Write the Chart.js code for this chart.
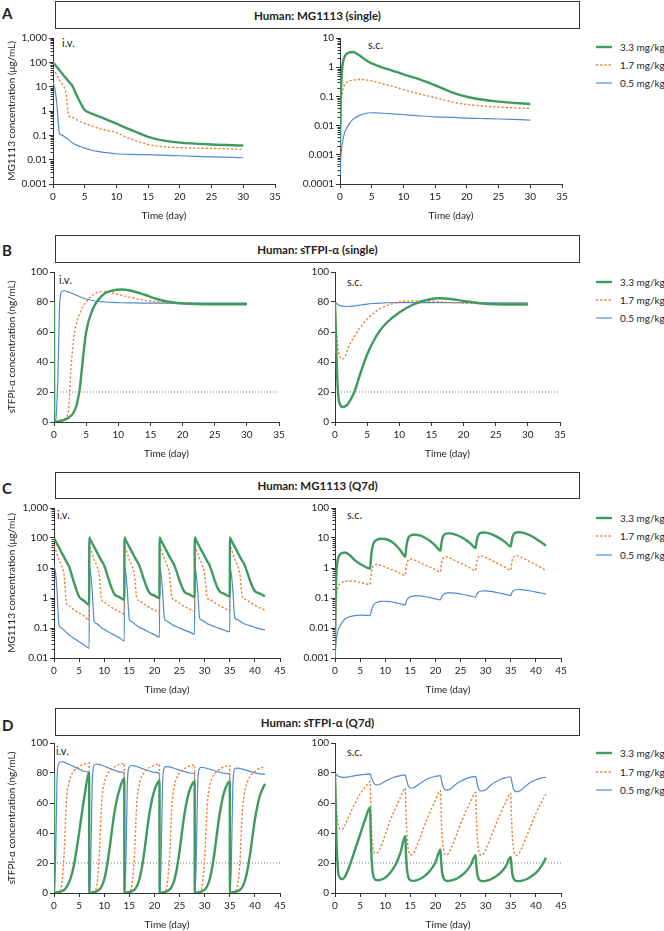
<!DOCTYPE html>
<html lang="en">
<head>
  <meta charset="UTF-8">
  <title>MG1113 and sTFPI-α simulations</title>
  <script src="https://cdn.jsdelivr.net/npm/chart.js"></script>
  <style>
    body { margin: 0; background: #fff; }
    #fig { position: relative; width: 664px; height: 931px; overflow: hidden; font-family: Lato, 'Open Sans', sans-serif; color: #222; }
    #fig canvas { position: absolute; }
    .head { position: absolute; left: 55px; width: 525px; box-sizing: border-box; border: 1px solid #333; font-weight: 700; font-size: 11.5px; display: flex; align-items: center; justify-content: center; }
    .letter { position: absolute; left: 2px; font-weight: 700; font-size: 15px; line-height: 15px; }
    .route { position: absolute; font-size: 11px; line-height: 12px; }
    .leg { position: absolute; left: 596px; width: 70px; height: 12px; font-size: 10px; line-height: 12px; white-space: nowrap; }
    .leg svg { position: absolute; left: 0; top: 3px; }
    .leg span { position: absolute; left: 24px; top: 0; }
  </style>
</head>
<body>
<div id="fig"></div>
<script>
  // ---- data ----
  const doseLabels = ['3.3 mg/kg', '1.7 mg/kg', '0.5 mg/kg'];
  const targetLevel = 20;

  // A: MG1113 single dose (µg/mL)
  const timeA_iv = [0, 0.3, 0.6, 0.9, 1, 1.5, 2, 2.5, 3, 4, 4.5, 5, 6, 7, 8, 10, 12, 15, 18, 20, 25, 30];
  const mgSingleIv33 = [100, 80, 64, 52, 48, 33, 23, 16, 11.2, 3.2, 1.8, 1.1, 0.8, 0.63, 0.5, 0.3, 0.18, 0.087, 0.058, 0.05, 0.042, 0.038];
  const mgSingleIv17 = [55, 42, 30, 21, 19, 12, 6, 0.65, 0.55, 0.4, 0.35, 0.31, 0.25, 0.2, 0.17, 0.13, 0.075, 0.042, 0.033, 0.031, 0.029, 0.027];
  const mgSingleIv05 = [15, 8, 2, 0.2, 0.12, 0.1, 0.08, 0.065, 0.05, 0.037, 0.033, 0.03, 0.025, 0.022, 0.02, 0.0175, 0.0165, 0.016, 0.015, 0.0145, 0.013, 0.012];

  const timeA_sc = [0, 0.1, 0.2, 0.4, 0.7, 1, 1.5, 2, 3, 4, 5, 6, 7, 8, 10, 12, 15, 18, 20, 22, 25, 30];
  const mgSingleSc33 = [0.002, 0.05, 0.3, 1.2, 2.2, 2.8, 3.2, 3.3, 2.6, 1.8, 1.35, 1.1, 0.93, 0.8, 0.57, 0.42, 0.24, 0.13, 0.097, 0.08, 0.066, 0.055];
  const mgSingleSc17 = [0.0008, 0.01, 0.05, 0.15, 0.25, 0.3, 0.34, 0.36, 0.38, 0.37, 0.34, 0.3, 0.26, 0.23, 0.17, 0.13, 0.09, 0.062, 0.053, 0.048, 0.043, 0.039];
  const mgSingleSc05 = [0.0002, 0.0006, 0.0012, 0.0028, 0.0055, 0.0078, 0.012, 0.016, 0.022, 0.026, 0.0275, 0.027, 0.0265, 0.0255, 0.0235, 0.022, 0.02, 0.019, 0.018, 0.0175, 0.0168, 0.0155];

  // B: sTFPI-α single dose (ng/mL)
  const timeB_iv = [0, 0.03, 0.3, 0.6, 0.9, 1.2, 1.6, 2, 2.3, 2.6, 3, 3.5, 4, 4.5, 5, 6, 7, 8, 9, 10.5, 12, 14, 16, 18, 20, 25, 30];
  const tfpiSingleIv33 = [80, 0, 0.2, 0.4, 0.6, 0.9, 1.4, 2.2, 3, 4, 6, 11, 22, 42, 60, 75, 82, 86, 87.5, 88.3, 87.5, 85, 82, 80, 79, 78.5, 78.5];
  const tfpiSingleIv17 = [80, 0, 0.3, 0.6, 1, 1.5, 2.3, 3.5, 10, 33, 53, 66, 72, 77, 80, 84.5, 86.7, 86.8, 86, 84.5, 83, 81.2, 80, 79.4, 79.2, 79, 79];
  const tfpiSingleIv05 = [80, 0, 2, 30, 80, 87, 87.5, 87, 86.6, 86.2, 85.5, 84.5, 83.5, 82.7, 82, 81, 80.4, 80, 79.7, 79.5, 79.4, 79.3, 79.3, 79.2, 79.2, 79.2, 79.2];

  const timeB_sc = [0, 0.1, 0.3, 0.5, 0.8, 1.2, 1.6, 2, 3, 4, 5, 6, 7, 8, 10, 12, 14, 16, 18, 20, 23, 25, 30];
  const tfpiSingleSc33 = [80, 65, 35, 18, 11.5, 10, 10.5, 12, 20, 33, 45, 54, 61, 66, 73, 78, 81, 82.5, 82, 80.7, 79, 78.5, 78.3];
  const tfpiSingleSc17 = [80, 72, 57, 48, 43, 42, 44, 49, 57, 63.5, 68.5, 72.5, 75.5, 77.5, 80, 80.7, 80.6, 80.2, 79.7, 79.3, 79, 79, 79];
  const tfpiSingleSc05 = [80, 79.5, 78.8, 78.2, 77.6, 77.2, 77, 77, 77.4, 78, 78.6, 79, 79.3, 79.5, 79.6, 79.6, 79.6, 79.6, 79.6, 79.6, 79.5, 79.5, 79.5];

  // C: MG1113 Q7d
  const timeC_iv = [
    0, 0.03, 0.3, 0.6, 1, 1.5, 2, 2.5, 3, 4, 4.5, 5, 6,
    7, 7.03, 7.3, 7.6, 8, 8.5, 9, 9.5, 10, 11, 11.5, 12, 13,
    14, 14.03, 14.3, 14.6, 15, 15.5, 16, 16.5, 17, 18, 18.5, 19, 20,
    21, 21.03, 21.3, 21.6, 22, 22.5, 23, 23.5, 24, 25, 25.5, 26, 27,
    28, 28.03, 28.3, 28.6, 29, 29.5, 30, 30.5, 31, 32, 32.5, 33, 34,
    35, 35.03, 35.3, 35.6, 36, 36.5, 37, 37.5, 38, 39, 39.5, 40, 41,
    42];
  const mgQ7Iv33 = [
    null, 100, 80, 64, 48, 33, 23, 16, 11.2, 3.2, 1.8, 1.1, 0.8,
    0.6, 105, 84, 67, 50, 35, 24, 17, 12, 3.6, 2.1, 1.35, 1.08,
    0.88, 105, 84, 67, 50, 35, 24, 17, 12, 3.7, 2.2, 1.5, 1.2,
    1.0, 105, 84, 67, 50, 35, 24, 17, 12, 3.8, 2.3, 1.6, 1.3,
    1.08, 105, 84, 67, 50, 35, 24, 17, 12, 3.8, 2.3, 1.65, 1.35,
    1.12, 105, 84, 67, 50, 35, 24, 17, 12, 3.9, 2.4, 1.7, 1.4,
    1.15];
  const mgQ7Iv17 = [
    null, 55, 42, 30, 19, 12, 6, 0.65, 0.55, 0.4, 0.35, 0.31, 0.25,
    0.18, 55, 42, 30, 19, 12, 6, 0.85, 0.72, 0.55, 0.48, 0.43, 0.35,
    0.29, 55, 42, 30, 19, 12, 6.2, 0.95, 0.8, 0.62, 0.54, 0.48, 0.4,
    0.33, 56, 43, 31, 20, 12.5, 6.4, 1.0, 0.85, 0.67, 0.58, 0.52, 0.43,
    0.36, 56, 43, 31, 20, 12.5, 6.4, 1.05, 0.88, 0.7, 0.61, 0.55, 0.45,
    0.38, 56, 43, 31, 20, 12.5, 6.5, 1.1, 0.92, 0.73, 0.64, 0.57, 0.47,
    0.40];
  const mgQ7Iv05 = [
    null, 12, 7, 1.8, 0.12, 0.1, 0.085, 0.07, 0.06, 0.045, 0.04, 0.035, 0.027,
    0.021, 11, 6.5, 1.8, 0.17, 0.14, 0.12, 0.1, 0.09, 0.072, 0.065, 0.058, 0.047,
    0.037, 11, 6.5, 1.8, 0.19, 0.16, 0.14, 0.12, 0.105, 0.088, 0.08, 0.072, 0.06,
    0.05, 11, 6.5, 1.9, 0.2, 0.17, 0.15, 0.13, 0.118, 0.1, 0.092, 0.085, 0.073,
    0.063, 11, 6.5, 1.9, 0.21, 0.18, 0.16, 0.14, 0.128, 0.11, 0.102, 0.095, 0.084,
    0.075, 11, 6.5, 1.9, 0.22, 0.19, 0.17, 0.15, 0.136, 0.12, 0.112, 0.105, 0.094,
    0.085];

  // shared time grid for the s.c. Q7d panels (C and D)
  const timeQ7_sc = [
    0, 0.1, 0.3, 0.6, 1, 1.5, 2, 3, 4, 5, 6,
    7, 7.1, 7.3, 7.6, 8, 8.5, 9, 10, 11, 12, 13,
    14, 14.1, 14.3, 14.6, 15, 15.5, 16, 17, 18, 19, 20,
    21, 21.1, 21.3, 21.6, 22, 22.5, 23, 24, 25, 26, 27,
    28, 28.1, 28.3, 28.6, 29, 29.5, 30, 31, 32, 33, 34,
    35, 35.1, 35.3, 35.6, 36, 36.5, 37, 38, 39, 40, 41,
    42];
  const mgQ7Sc33 = [
    0.002, 0.05, 0.8, 2.0, 2.8, 3.2, 3.3, 2.6, 1.8, 1.35, 1.1,
    0.95, 1.5, 3.5, 6.2, 8, 9, 9.4, 9.3, 8, 6, 3.9,
    2.4, 3.5, 6.5, 10, 12, 12.8, 12.9, 12, 10, 7.8, 5.6,
    3.8, 5, 8.5, 12, 13.8, 14.3, 14.2, 13, 11, 8.8, 6.5,
    4.6, 6, 9.5, 13, 14.8, 15.3, 15.1, 13.8, 11.6, 9.2, 7,
    5.2, 6.6, 10, 13.5, 15.2, 15.6, 15.4, 14.1, 11.9, 9.5, 7.3,
    5.5];
  const mgQ7Sc17 = [
    0.0008, 0.01, 0.1, 0.22, 0.3, 0.34, 0.36, 0.37, 0.36, 0.33, 0.3,
    0.28, 0.4, 0.8, 1.15, 1.3, 1.32, 1.25, 1.08, 0.92, 0.78, 0.66,
    0.57, 0.8, 1.4, 1.85, 2.0, 1.95, 1.8, 1.5, 1.25, 1.05, 0.88,
    0.74, 1.0, 1.7, 2.2, 2.4, 2.3, 2.1, 1.75, 1.45, 1.2, 0.98,
    0.81, 1.1, 1.85, 2.35, 2.55, 2.45, 2.25, 1.85, 1.52, 1.25, 1.02,
    0.84, 1.15, 1.9, 2.4, 2.6, 2.5, 2.3, 1.9, 1.55, 1.27, 1.03,
    0.83];
  const mgQ7Sc05 = [
    0.0005, 0.002, 0.0045, 0.008, 0.012, 0.016, 0.02, 0.024, 0.026, 0.027, 0.0265,
    0.026, 0.03, 0.042, 0.055, 0.066, 0.073, 0.077, 0.078, 0.075, 0.07, 0.064,
    0.058, 0.066, 0.085, 0.1, 0.11, 0.116, 0.118, 0.117, 0.11, 0.102, 0.094,
    0.087, 0.095, 0.115, 0.132, 0.143, 0.148, 0.149, 0.145, 0.136, 0.126, 0.116,
    0.107, 0.117, 0.14, 0.158, 0.168, 0.172, 0.172, 0.166, 0.155, 0.143, 0.132,
    0.122, 0.133, 0.158, 0.177, 0.188, 0.192, 0.191, 0.184, 0.171, 0.158, 0.147,
    0.138];

  // D: sTFPI-α Q7d
  const timeD_iv = [
    0, 0.03, 0.3, 0.6, 0.9, 1.3, 2, 2.5, 3, 3.5, 4, 4.5, 5, 5.5, 6,
    7, 7.03, 7.3, 7.6, 7.9, 8.3, 9, 9.5, 10, 10.5, 11, 11.5, 12, 12.5, 13,
    14, 14.03, 14.3, 14.6, 14.9, 15.3, 16, 16.5, 17, 17.5, 18, 18.5, 19, 19.5, 20,
    21, 21.03, 21.3, 21.6, 21.9, 22.3, 23, 23.5, 24, 24.5, 25, 25.5, 26, 26.5, 27,
    28, 28.03, 28.3, 28.6, 28.9, 29.3, 30, 30.5, 31, 31.5, 32, 32.5, 33, 33.5, 34,
    35, 35.03, 35.3, 35.6, 35.9, 36.3, 37, 37.5, 38, 38.5, 39, 39.5, 40, 40.5, 41,
    42];
  const tfpiQ7Iv33 = [
    80, 0, 0.1, 0.3, 0.5, 0.9, 2, 4, 7, 12, 19, 29, 40, 52, 63,
    80, 0, 0.1, 0.3, 0.5, 0.9, 2.2, 4.5, 9, 17, 28, 41, 53, 62, 68.5,
    76.5, 0, 0.1, 0.3, 0.5, 0.9, 2.2, 4.5, 9, 17, 28, 41, 53, 62, 68.5,
    75, 0, 0.1, 0.3, 0.5, 0.9, 2.2, 4.5, 9, 17, 28, 41, 53, 62, 68.5,
    74.3, 0, 0.1, 0.3, 0.5, 0.9, 2.2, 4.5, 9, 17, 28, 41, 53, 62, 68.5,
    74.3, 0, 0.1, 0.3, 0.5, 0.9, 2, 4, 8, 15, 25, 37, 49, 58, 65,
    72.8];
  const tfpiQ7Iv17 = [
    80, 0, 0.3, 0.6, 1, 2, 25, 63, 74, 79, 81.5, 83.2, 84.4, 85.3, 86,
    86.7, 0, 0.3, 0.6, 1, 2, 24, 61, 73, 78.5, 81, 82.8, 84, 85, 85.7,
    86.3, 0, 0.3, 0.6, 1, 2, 24, 60, 72.5, 78, 80.5, 82.3, 83.5, 84.5, 85.2,
    85.8, 0, 0.3, 0.6, 1, 2, 23, 59, 72, 77.5, 80, 81.8, 83, 84, 84.7,
    85.3, 0, 0.3, 0.6, 1, 2, 23, 58, 71.5, 77, 79.5, 81.3, 82.6, 83.6, 84.3,
    85, 0, 0.3, 0.6, 1, 2, 20, 54, 68, 74, 77.5, 79.5, 81, 82.3, 83.2,
    84];
  const tfpiQ7Iv05 = [
    80, 0, 20, 75, 86, 87.5, 87.2, 86.5, 85.7, 85, 84.2, 83.4, 82.6, 81.8, 81,
    80.2, 0, 18, 72, 84.5, 86, 85.8, 85.2, 84.5, 83.9, 83.2, 82.5, 81.9, 81.3, 80.8,
    80.2, 0, 18, 72, 83.5, 85, 84.8, 84.3, 83.7, 83.1, 82.5, 81.9, 81.3, 80.8, 80.4,
    79.9, 0, 18, 71, 83, 84.3, 84.1, 83.6, 83, 82.4, 81.9, 81.4, 80.9, 80.4, 80,
    79.6, 0, 18, 71, 82.5, 83.7, 83.5, 83, 82.5, 82, 81.5, 81, 80.5, 80.1, 79.8,
    79.4, 0, 18, 70, 82, 83.3, 83.1, 82.6, 82.1, 81.6, 81.1, 80.6, 80.1, 79.7, 79.4,
    79.1];

  const tfpiQ7Sc33 = [
    80, 65, 35, 15, 10, 9.2, 11, 19, 29, 39, 49,
    57, 42, 22, 12, 9, 8.5, 8.7, 10.2, 13.5, 18.5, 26.5,
    38, 29, 17, 10.5, 8.5, 8.1, 8.3, 9.5, 11.8, 15.2, 20.5,
    29, 23, 14.5, 10, 8.3, 8, 8.2, 9.2, 11.2, 14, 18.5,
    25.2, 20.5, 13.5, 9.5, 8.2, 7.9, 8.1, 9.1, 11, 13.6, 17.8,
    24.1, 19.8, 13, 9.4, 8.1, 7.9, 8.1, 9, 10.9, 13.4, 17.4,
    23.4];
  const tfpiQ7Sc17 = [
    80, 72, 57, 47, 42.5, 42.5, 45.5, 53, 60, 66, 70.5,
    74.3, 62, 42, 30, 26.5, 27, 30, 39, 48.5, 56, 63.5,
    69.9, 58, 40, 29, 25.5, 26, 29, 37.5, 46.5, 54.5, 62,
    68.3, 57, 39.5, 29, 25.5, 26, 29, 37, 46, 54, 61,
    67, 56, 39, 28.5, 25.2, 25.8, 28.8, 36.8, 45.5, 53.5, 60.5,
    66.5, 55.5, 38.5, 28.5, 25.2, 25.8, 28.8, 36.5, 45, 53, 60,
    65.8];
  const tfpiQ7Sc05 = [
    80, 79.5, 78.8, 78, 77.4, 77.1, 77.1, 77.5, 78.2, 78.7, 79.1,
    79.4, 78.5, 76.5, 74, 72.3, 72, 72.5, 74.5, 76.2, 77.4, 78.2,
    78.8, 77.5, 74.5, 71.5, 70, 70, 70.8, 73.2, 75.3, 76.8, 77.8,
    78.2, 77, 73.5, 70.2, 68.7, 68.7, 69.5, 72.3, 74.5, 76.1, 77.2,
    77.8, 76.5, 73, 69.5, 68.1, 68.1, 68.9, 71.8, 74.1, 75.8, 76.9,
    77.5, 76.2, 72.6, 69, 67.6, 67.6, 68.5, 71.4, 73.8, 75.5, 76.6,
    77.2];

  // tick values for the log axes
  const mgTicksIv = [0.001, 0.01, 0.1, 1, 10, 100, 1000];
  const mgTicksSc = [0.0001, 0.001, 0.01, 0.1, 1, 10];
  const mgTicksQ7Iv = [0.01, 0.1, 1, 10, 100, 1000];
  const mgTicksQ7Sc = [0.001, 0.01, 0.1, 1, 10, 100];

  // ---- styling ----
  const lineColors = ['#3f9a60', '#ee7d31', '#4f8ad3'];
  const lineWidths = [2.4, 1.4, 1.2];
  const lineDashes = [[], [2.2, 2], []];
  const ink = '#222';
  const fontFamily = "Lato, 'Open Sans', sans-serif";
  const mgTitle = 'MG1113 concentration (μg/mL)';
  const tfpiTitle = 'sTFPI-α concentration (ng/mL)';

  const panels = [
    { x0: 53, x1: 275, top: 38, bottom: 184, yW: 53, xMax: 35, times: [timeA_iv], series: [mgSingleIv33, mgSingleIv17, mgSingleIv05], logTicks: mgTicksIv, yTitle: mgTitle },
    { x0: 340, x1: 562, top: 38, bottom: 184, yW: 50, xMax: 35, times: [timeA_sc], series: [mgSingleSc33, mgSingleSc17, mgSingleSc05], logTicks: mgTicksSc },
    { x0: 54, x1: 279, top: 272, bottom: 422, yW: 54, xMax: 35, times: [timeB_iv], series: [tfpiSingleIv33, tfpiSingleIv17, tfpiSingleIv05], yTitle: tfpiTitle, target: true },
    { x0: 335, x1: 560, top: 272, bottom: 422, yW: 50, xMax: 35, times: [timeB_sc], series: [tfpiSingleSc33, tfpiSingleSc17, tfpiSingleSc05], target: true },
    { x0: 54, x1: 280, top: 508, bottom: 658, yW: 54, xMax: 45, times: [timeC_iv], series: [mgQ7Iv33, mgQ7Iv17, mgQ7Iv05], logTicks: mgTicksQ7Iv, yTitle: mgTitle },
    { x0: 335, x1: 561, top: 508, bottom: 658, yW: 50, xMax: 45, times: [timeQ7_sc], series: [mgQ7Sc33, mgQ7Sc17, mgQ7Sc05], logTicks: mgTicksQ7Sc },
    { x0: 54, x1: 280, top: 743, bottom: 893, yW: 54, xMax: 45, times: [timeD_iv], series: [tfpiQ7Iv33, tfpiQ7Iv17, tfpiQ7Iv05], yTitle: tfpiTitle, target: true },
    { x0: 335, x1: 561, top: 743, bottom: 893, yW: 50, xMax: 45, times: [timeQ7_sc], series: [tfpiQ7Sc33, tfpiQ7Sc17, tfpiQ7Sc05], target: true }
  ];

  const headers = [
    { text: 'Human: MG1113 (single)', top: 1, h: 28, letter: 'A', ly: 6 },
    { text: 'Human: sTFPI-α (single)', top: 235, h: 28, letter: 'B', ly: 243 },
    { text: 'Human: MG1113 (Q7d)', top: 472, h: 27, letter: 'C', ly: 481 },
    { text: 'Human: sTFPI-α (Q7d)', top: 708, h: 28, letter: 'D', ly: 718 }
  ];
  const routes = [
    ['i.v.', 62, 37], ['s.c.', 368, 39], ['i.v.', 59, 274], ['s.c.', 347, 276],
    ['i.v.', 57, 509], ['s.c.', 347, 509], ['i.v.', 56, 745], ['s.c.', 347, 746]
  ];
  const legendRows = [[46.7, 65.3, 83.3], [281.7, 300, 318.3], [517.7, 536, 555], [753.3, 772, 790]];

  const fig = document.getElementById('fig');

  headers.forEach(hd => {
    const b = document.createElement('div');
    b.className = 'head';
    b.style.top = hd.top + 'px';
    b.style.height = hd.h + 'px';
    b.textContent = hd.text;
    fig.appendChild(b);
    const l = document.createElement('div');
    l.className = 'letter';
    l.style.top = hd.ly + 'px';
    l.textContent = hd.letter;
    fig.appendChild(l);
  });

  routes.forEach(([txt, x, y]) => {
    const d = document.createElement('div');
    d.className = 'route';
    d.style.left = x + 'px';
    d.style.top = y + 'px';
    d.textContent = txt;
    fig.appendChild(d);
  });

  legendRows.forEach(rows => {
    rows.forEach((cy, i) => {
      const row = document.createElement('div');
      row.className = 'leg';
      row.style.top = (cy - 6) + 'px';
      const dash = lineDashes[i].length ? ` stroke-dasharray="${lineDashes[i].join(',')}"` : '';
      row.innerHTML = `<svg width="16" height="6"><line x1="0" y1="3" x2="16" y2="3" stroke="${lineColors[i]}" stroke-width="${lineWidths[i]}"${dash}/></svg><span>${doseLabels[i]}</span>`;
      fig.appendChild(row);
    });
  });

  // short minor ticks between decades on log axes
  const minorTicks = {
    id: 'minorTicks',
    afterDraw(chart) {
      const s = chart.scales.y;
      if (s.type !== 'logarithmic') return;
      const ctx = chart.ctx;
      ctx.save();
      ctx.strokeStyle = '#333';
      ctx.lineWidth = 1;
      const lo = Math.round(Math.log10(s.min)), hi = Math.round(Math.log10(s.max));
      for (let e = lo; e < hi; e++) {
        for (let k = 2; k <= 9; k++) {
          const y = Math.round(s.getPixelForValue(k * Math.pow(10, e))) + 0.5;
          ctx.beginPath();
          ctx.moveTo(s.right - 2.5, y);
          ctx.lineTo(s.right, y);
          ctx.stroke();
        }
      }
      ctx.restore();
    }
  };

  function fmtLog(v) {
    return v >= 1 ? v.toLocaleString('en-US') : String(Number(v.toPrecision(1)));
  }

  function makePanel(p) {
    const padTop = 10, padRight = 16, xH = 40;
    const left = p.x0 - p.yW;
    const w = p.x1 - left + padRight;
    const h = p.bottom - p.top + padTop + xH;
    const canvas = document.createElement('canvas');
    canvas.width = w;
    canvas.height = h;
    canvas.style.left = left + 'px';
    canvas.style.top = (p.top - padTop) + 'px';
    canvas.style.width = w + 'px';
    canvas.style.height = h + 'px';
    fig.appendChild(canvas);

    const times = p.times[0];
    const datasets = p.series.map((vals, i) => ({
      data: vals.map((v, j) => ({ x: times[j], y: v })),
      borderColor: lineColors[i],
      borderWidth: lineWidths[i],
      borderDash: lineDashes[i],
      pointRadius: 0,
      fill: false,
      cubicInterpolationMode: 'monotone'
    }));
    if (p.target) {
      datasets.push({
        data: [{ x: 0, y: targetLevel }, { x: p.xMax, y: targetLevel }],
        borderColor: '#777', borderWidth: 1, borderDash: [1, 2], pointRadius: 0, fill: false
      });
    }

    const tickFont = { family: fontFamily, size: 10 };
    const yScale = {
      ticks: { font: tickFont, color: ink, padding: 2, autoSkip: false },
      grid: { drawOnChartArea: false, drawTicks: true, tickLength: 4, color: '#333' },
      border: { color: '#333', width: 1 },
      title: { display: !!p.yTitle, text: p.yTitle || '', font: { family: fontFamily, size: 10 }, color: ink, padding: { top: 6, bottom: 0 } },
      afterFit: s => { s.width = p.yW; }
    };
    if (p.logTicks) {
      Object.assign(yScale, {
        type: 'logarithmic',
        min: p.logTicks[0],
        max: p.logTicks[p.logTicks.length - 1],
        afterBuildTicks: s => { s.ticks = p.logTicks.map(v => ({ value: v })); }
      });
      yScale.ticks.callback = v => fmtLog(v);
    } else {
      Object.assign(yScale, { type: 'linear', min: 0, max: 100 });
      yScale.ticks.stepSize = 20;
    }

    new Chart(canvas, {
      type: 'line',
      data: { datasets },
      plugins: [minorTicks],
      options: {
        responsive: false,
        animation: false,
        events: [],
        layout: { padding: { top: padTop, right: padRight, left: 0, bottom: 0 } },
        plugins: { legend: { display: false }, tooltip: { enabled: false } },
        scales: {
          x: {
            type: 'linear', min: 0, max: p.xMax,
            ticks: { stepSize: 5, font: tickFont, color: ink, padding: 3, maxRotation: 0 },
            grid: { drawOnChartArea: false, drawTicks: true, tickLength: 4, color: '#333' },
            border: { color: '#333', width: 1 },
            title: { display: true, text: 'Time (day)', font: { family: fontFamily, size: 10 }, color: ink, padding: { top: 2, bottom: 2 } },
            afterFit: s => { s.height = xH; }
          },
          y: yScale
        }
      }
    });
  }

  panels.forEach(makePanel);
</script>
</body>
</html>
